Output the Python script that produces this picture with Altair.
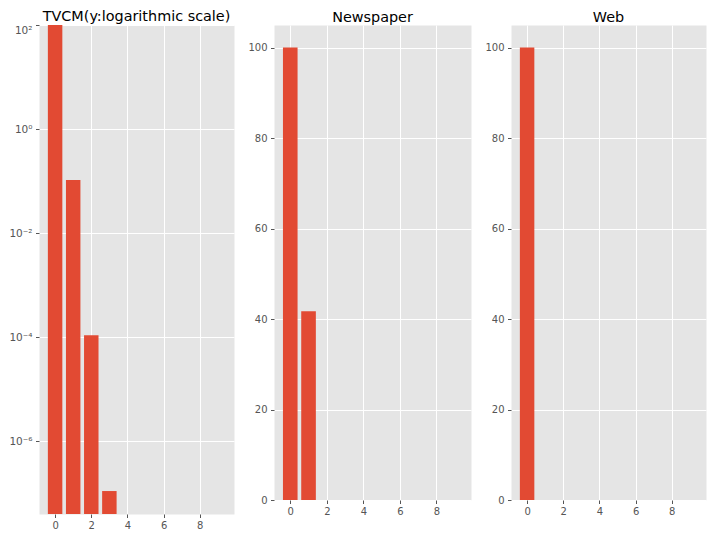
import altair as alt
import pandas as pd

idx = list(range(10))
tvcm = [100, 0.105, 1.09e-4, 1.1e-7, 0, 0, 0, 0, 0, 0]
newspaper = [100, 41.7, 0, 0, 0, 0, 0, 0, 0, 0]
web = [100, 0, 0, 0, 0, 0, 0, 0, 0, 0]
titles = ["TVCM(y:logarithmic scale)", "Newspaper", "Web"]
x_ticks = [0, 2, 4, 6, 8]
log_ticks = [1e-6, 1e-4, 1e-2, 1, 100]
lin_ticks = [0, 20, 40, 60, 80, 100]

df = pd.DataFrame({"idx": idx, "tvcm": tvcm, "newspaper": newspaper, "web": web})

RED = "#E24A33"
XDOM = [-0.89, 9.89]
LOGMIN = 10 ** -7.4


def title(t):
    return alt.TitleParams(t, fontSize=14.4, font="DejaVu Sans", fontWeight="normal",
                           color="black", offset=0, anchor="middle")


def xenc():
    return alt.X("x0:Q", scale=alt.Scale(domain=XDOM, nice=False, zero=False),
                 axis=alt.Axis(values=x_ticks, title=None, format="d"))


log_label = ("datum.value >= 50 ? '10²' : datum.value >= 0.5 ? '10⁰' : "
             "datum.value >= 0.005 ? '10⁻²' : datum.value >= 0.00005 ? '10⁻⁴' : '10⁻⁶'")

p1 = alt.Chart(df, title=title(titles[0])).transform_filter("datum.tvcm > 0").transform_calculate(
    x0="datum.idx - 0.4", x1="datum.idx + 0.4"
).mark_bar(color=RED, clip=True).encode(
    x=xenc(),
    x2="x1:Q",
    y=alt.Y("tvcm:Q", scale=alt.Scale(type="log", domain=[LOGMIN, 100], nice=False),
            axis=alt.Axis(values=log_ticks, title=None, labelExpr=log_label, labelFontSize=10.5,
                          labelFlush=True, labelFlushOffset=0)),
    y2=alt.datum(LOGMIN),
).properties(width=195, height=489)


def lin_panel(field, t, w):
    return alt.Chart(df, title=title(t)).transform_filter(f"datum.{field} > 0").transform_calculate(
        x0="datum.idx - 0.4", x1="datum.idx + 0.4"
    ).mark_bar(color=RED).encode(
        x=xenc(),
        x2="x1:Q",
        y=alt.Y(f"{field}:Q", scale=alt.Scale(domain=[0, 105], nice=False),
                axis=alt.Axis(values=lin_ticks, title=None)),
        y2=alt.datum(0),
    ).properties(width=w, height=475)


p2 = lin_panel("newspaper", titles[1], 197)
p3 = lin_panel("web", titles[2], 195)

chart = alt.hconcat(p1, p2, p3, spacing=12).properties(
    padding=0
).configure_view(
    fill="#E5E5E5", stroke="transparent"
).configure_axis(
    domain=False, grid=True, gridColor="white", gridWidth=1,
    tickColor="#555555", tickSize=3.5, labelColor="#555555",
    labelFont="DejaVu Sans", labelFontSize=10,
).configure_axisX(labelPadding=2.5).configure_axisY(labelPadding=3.5)

chart.save("out.html", embed_options={"renderer": "svg", "actions": False})
